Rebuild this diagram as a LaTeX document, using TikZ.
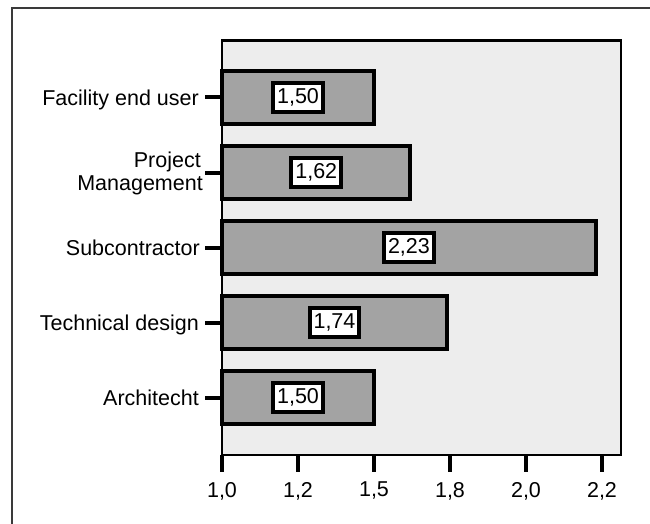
\documentclass[tikz,border=0pt]{standalone}
\usepackage{fontspec}
\setmainfont{Liberation Sans}
\definecolor{plotbg}{HTML}{EDEDED}
\definecolor{barfill}{HTML}{A3A3A3}
\definecolor{framegray}{HTML}{3A3A3A}
\begin{document}
\begin{tikzpicture}[x=1pt,y=-1pt,
  catlabel/.style={anchor=base east,inner sep=0pt,font=\fontsize{21.5}{23}\selectfont},
  ticklabel/.style={anchor=north,inner sep=0pt,font=\fontsize{21.5}{23}\selectfont},
  barbox/.style={draw=black,line width=4pt,fill=barfill},
  valbox/.style={draw=black,line width=4pt,fill=white,inner xsep=4pt,inner ysep=0pt,
    minimum height=29pt,font=\fontsize{21.5}{23}\selectfont},
  tickline/.style={draw=black,line width=4pt}]
\useasboundingbox (0,0) rectangle (650,524);
% outer frame (only the left and top edges are inside the page)
\draw[framegray,line width=1.5pt] (12,524) -- (12,8) -- (650,8);
% plot area
\draw[fill=plotbg,draw=black,line width=2.5pt] (222,40.5) rectangle (621,455);
% bars: value / centre y / printed value / name
\foreach \v/\c/\t/\n in {1.50/97.5/{1,50}/fac,1.62/172.5/{1,62}/pm,2.23/247.5/{2,23}/sub,1.74/322.5/{1,74}/tech,1.50/397.5/{1,50}/arch}{
  \pgfmathsetmacro{\xe}{222+(\v-1)*304}
  \draw[barbox] (222,\c-26.5) rectangle (\xe,\c+26.5);
  \node[valbox] (val-\n) at ({(222+\xe)/2},\c) {\t};
  \draw[tickline] (205,\c) -- (222,\c);
}
% category labels
\node[catlabel] (lab-fac) at (199,105.5) {Facility end user};
\node[catlabel] (lab-pm1) at (201,167.5) {Project};
\node[catlabel] (lab-pm2) at (203,190.5) {Management};
\node[catlabel] (lab-sub) at (200,255.5) {Subcontractor};
\node[catlabel] (lab-tech) at (199,330.5) {Technical design};
\node[catlabel] (lab-arch) at (199,405.5) {Architecht};
% x axis ticks and labels
\foreach \k/\t in {0/{1,0},1/{1,2},2/{1,5},3/{1,8},4/{2,0},5/{2,2}}{
  \draw[tickline] (222+\k*76,455) -- (222+\k*76,472);
  \node[ticklabel] (tick-\k) at (222+\k*76,482) {\t};
}
\end{tikzpicture}
\end{document}
